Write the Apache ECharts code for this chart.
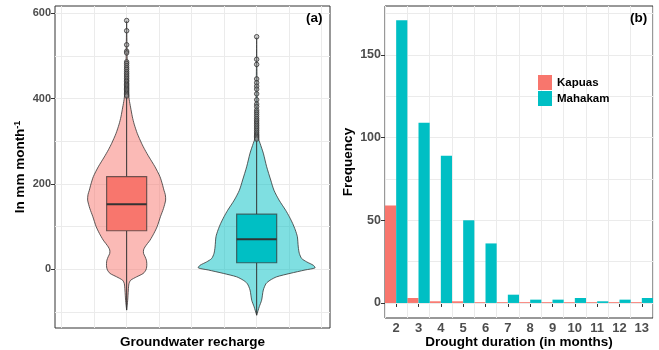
<!DOCTYPE html>
<html>
<head>
<meta charset="utf-8">
<script src="https://cdn.jsdelivr.net/npm/echarts@6.0.0/dist/echarts.min.js"></script>
<style>
  html, body { margin: 0; padding: 0; background: #fff; }
  #chart { width: 659px; height: 350px; }
</style>
</head>
<body>
<div id="chart"></div>
<script>
// (a) violin outlines: recharge level (mm/month) and half width (in category units)
const kapuasLevels = [-96, -73, -49, -34, -26, -18, -10, -2, 5, 13, 21, 29, 37, 45, 52, 60, 68, 84, 100, 123, 142, 162, 175, 185, 200, 217, 240, 263, 280, 295, 318, 340, 357, 380, 397, 420, 460, 520, 582]
const kapuasHalfWidth = [0, 0.008, 0.013, 0.018, 0.031, 0.077, 0.128, 0.148, 0.154, 0.155, 0.152, 0.142, 0.13, 0.13, 0.141, 0.16, 0.18, 0.21, 0.235, 0.26, 0.283, 0.3, 0.297, 0.287, 0.274, 0.256, 0.218, 0.172, 0.14, 0.115, 0.082, 0.058, 0.044, 0.03, 0.02, 0.012, 0.006, 0.003, 0]
const mahakamLevels = [-108, -88, -73, -49, -34, -26, -18, -10, -2, 3, 9, 17, 25, 37, 52, 76, 92, 107, 123, 138, 162, 185, 209, 240, 272, 295, 307, 340, 400, 470, 543]
const mahakamHalfWidth = [0, 0.02, 0.038, 0.051, 0.072, 0.103, 0.154, 0.256, 0.372, 0.449, 0.436, 0.385, 0.346, 0.328, 0.32, 0.313, 0.297, 0.277, 0.251, 0.223, 0.172, 0.133, 0.108, 0.077, 0.051, 0.026, 0.013, 0.007, 0.004, 0.002, 0]

// box stats: lower whisker, Q1, median, Q3, upper whisker
const kapuasBox = [-96, 90, 152, 217, 404]
const mahakamBox = [-108, 15, 70, 129, 302]

const kapuasOutliers = [583, 559, 526, 511, 507, 486, 482, 477, 472, 468, 463, 459, 455, 451, 447, 443, 440, 436, 433, 430, 427, 424, 421, 418, 415, 412, 409, 406]
const mahakamOutliers = [545, 492, 480, 446, 437, 429, 422, 411, 397, 387, 381, 373, 368, 363, 358, 353, 349, 345, 341, 337, 333, 329, 325, 321, 317, 314, 311, 308, 305]

// (b) drought duration frequency
const durations = ['2', '3', '4', '5', '6', '7', '8', '9', '10', '11', '12', '13']
const kapuasFreq = [59, 3, 1, 1, 0.5, 0.5, 0.5, 0.5, 0.5, 0.5, 0.5, 0.5]
const mahakamFreq = [171, 109, 89, 50, 36, 5, 2, 2, 3, 1, 2, 3]

// ticks and grid breaks
const rechargeLabels = [0, 200, 400, 600]
const rechargeGridY = [-100, 0, 100, 200, 300, 400, 500, 600]
const rechargeTicksX = [0.5, 1, 1.5, 2, 2.5]
const rechargeGridX = [0.5, 0.75, 1, 1.25, 1.5, 1.75, 2, 2.25, 2.5]
const freqLabels = [0, 50, 100, 150]
const freqGridY = [0, 25, 50, 75, 100, 125, 150, 175]

const RED = '#F8766D'
const CYAN = '#00BFC4'
const FONT = 'Liberation Sans'

const violins = [
  { x: 1, levels: kapuasLevels, hw: kapuasHalfWidth, fill: 'rgba(248,118,109,0.5)' },
  { x: 2, levels: mahakamLevels, hw: mahakamHalfWidth, fill: 'rgba(0,191,196,0.5)' }
]
const boxes = [
  { x: 1, stats: kapuasBox, fill: RED },
  { x: 2, stats: mahakamBox, fill: CYAN }
]

const chart = echarts.init(document.getElementById('chart'))

const gridLine = { color: '#EBEBEB', width: 1, type: 'solid' }
const tickLabel = { fontFamily: FONT, fontWeight: 'bold', color: '#4D4D4D' }
const axisTitle = { fontFamily: FONT, fontWeight: 'bold', fontSize: 13.5, color: '#000' }

const option = {
  animation: false,
  backgroundColor: '#fff',
  title: [
    { text: '(a)', left: 306, top: 11, padding: 0, textStyle: { fontFamily: FONT, fontSize: 13.5, fontWeight: 'bold', color: '#000' } },
    { text: '(b)', left: 630, top: 11, padding: 0, textStyle: { fontFamily: FONT, fontSize: 13.5, fontWeight: 'bold', color: '#000' } }
  ],
  legend: {
    data: ['Kapuas', 'Mahakam'],
    orient: 'vertical',
    left: 538,
    top: 75,
    padding: 0,
    itemWidth: 14,
    itemHeight: 15,
    itemGap: 1,
    icon: 'rect',
    textStyle: { fontFamily: FONT, fontWeight: 'bold', fontSize: 11.5, color: '#000' }
  },
  grid: [
    { left: 55, top: 6, width: 275, height: 322, outerBoundsMode: 'none', show: true, backgroundColor: '#fff', borderColor: '#333', borderWidth: 1 },
    { left: 385, top: 6, width: 268, height: 312, outerBoundsMode: 'none', show: true, backgroundColor: '#fff', borderColor: '#333', borderWidth: 1 }
  ],
  xAxis: [
    {
      type: 'value', gridIndex: 0, min: 0.449, max: 2.564,
      axisLine: { show: false },
      axisTick: { show: true, customValues: rechargeTicksX, length: 4, lineStyle: { color: '#333' } },
      axisLabel: { show: false },
      splitLine: { show: false },
      name: 'Groundwater recharge', nameLocation: 'middle', nameGap: 7, nameMoveOverlap: false,
      nameTextStyle: axisTitle
    },
    {
      type: 'category', gridIndex: 1, data: durations, boundaryGap: true,
      axisLine: { show: false },
      axisTick: { show: true, alignWithLabel: true, interval: 0, length: 4, lineStyle: { color: '#333' } },
      axisLabel: Object.assign({ interval: 0, fontSize: 13, margin: 4 }, tickLabel),
      splitLine: { show: true, interval: 0, lineStyle: gridLine },
      name: 'Drought duration (in months)', nameLocation: 'middle', nameGap: 17, nameMoveOverlap: false,
      nameTextStyle: axisTitle
    }
  ],
  yAxis: [
    {
      type: 'value', gridIndex: 0, min: -138, max: 617,
      axisLine: { show: false },
      axisTick: { show: true, customValues: rechargeLabels, length: 4, lineStyle: { color: '#333' } },
      axisLabel: Object.assign({ customValues: rechargeLabels, fontSize: 11, margin: 4 }, tickLabel),
      splitLine: { show: false },
      name: 'In mm month{sup|-1}', nameLocation: 'middle', nameGap: 28, nameMoveOverlap: false,
      nameTextStyle: Object.assign({
        rich: { sup: { fontFamily: FONT, fontWeight: 'bold', fontSize: 9, color: '#000', verticalAlign: 'top' } }
      }, axisTitle)
    },
    {
      type: 'value', gridIndex: 1, min: -9.1, max: 179.6,
      axisLine: { show: false },
      axisTick: { show: true, customValues: freqLabels, length: 4, lineStyle: { color: '#333' } },
      axisLabel: Object.assign({ customValues: freqLabels, fontSize: 12.5, margin: 4 }, tickLabel),
      splitLine: { show: false },
      name: 'Frequency', nameLocation: 'middle', nameGap: 30, nameMoveOverlap: false,
      nameTextStyle: axisTitle
    }
  ],
  series: [
    {
      type: 'line', xAxisIndex: 0, yAxisIndex: 0, data: [], z: 1, silent: true,
      markLine: {
        z: 1, silent: true, symbol: ['none', 'none'], label: { show: false },
        lineStyle: gridLine, animation: false,
        data: rechargeGridX.map(v => ({ xAxis: v })).concat(rechargeGridY.map(v => ({ yAxis: v })))
      }
    },
    {
      type: 'custom', name: 'violin', xAxisIndex: 0, yAxisIndex: 0, z: 10, clip: true,
      data: violins.map((v, i) => [v.x, i]),
      renderItem: function (params, api) {
        const v = violins[params.dataIndex]
        const c = api.value(0)
        const left = []
        const right = []
        for (let i = 0; i < v.levels.length; i++) {
          left.push(api.coord([c - v.hw[i], v.levels[i]]))
          right.push(api.coord([c + v.hw[i], v.levels[i]]))
        }
        return {
          type: 'polygon',
          shape: { points: left.concat(right.reverse()), smooth: 0.25 },
          style: { fill: v.fill, stroke: '#333', lineWidth: 0.8 }
        }
      }
    },
    {
      type: 'custom', name: 'box', xAxisIndex: 0, yAxisIndex: 0, z: 11, clip: true,
      data: boxes.map((b, i) => [b.x, i]),
      renderItem: function (params, api) {
        const b = boxes[params.dataIndex]
        const c = api.value(0)
        const s = b.stats
        const half = 0.154
        const lo = api.coord([c, s[0]])
        const q1 = api.coord([c, s[1]])
        const q3 = api.coord([c, s[3]])
        const hi = api.coord([c, s[4]])
        const tl = api.coord([c - half, s[3]])
        const br = api.coord([c + half, s[1]])
        const mL = api.coord([c - half, s[2]])
        const mR = api.coord([c + half, s[2]])
        return {
          type: 'group',
          children: [
            { type: 'line', shape: { x1: lo[0], y1: lo[1], x2: q1[0], y2: q1[1] }, style: { stroke: '#333', lineWidth: 1 } },
            { type: 'line', shape: { x1: q3[0], y1: q3[1], x2: hi[0], y2: hi[1] }, style: { stroke: '#333', lineWidth: 1 } },
            { type: 'rect', shape: { x: tl[0], y: tl[1], width: br[0] - tl[0], height: br[1] - tl[1] }, style: { fill: b.fill, stroke: 'rgba(51,51,51,0.7)', lineWidth: 1.2 } },
            { type: 'line', shape: { x1: mL[0], y1: mL[1], x2: mR[0], y2: mR[1] }, style: { stroke: '#333', lineWidth: 2 } }
          ]
        }
      }
    },
    {
      type: 'scatter', name: 'outliers', xAxisIndex: 0, yAxisIndex: 0, z: 12,
      symbol: 'circle', symbolSize: 4.5,
      itemStyle: { color: 'rgba(150,150,150,0.6)', borderColor: '#333', borderWidth: 1 },
      data: kapuasOutliers.map(v => [1, v]).concat(mahakamOutliers.map(v => [2, v]))
    },
    {
      type: 'line', xAxisIndex: 1, yAxisIndex: 1, data: [], z: 1, silent: true,
      markLine: {
        z: 1, silent: true, symbol: ['none', 'none'], label: { show: false },
        lineStyle: gridLine, animation: false,
        data: freqGridY.map(v => ({ yAxis: v }))
      }
    },
    {
      type: 'bar', name: 'Kapuas', xAxisIndex: 1, yAxisIndex: 1, z: 10,
      barGap: '0%', barCategoryGap: '0%',
      itemStyle: { color: RED },
      data: kapuasFreq
    },
    {
      type: 'bar', name: 'Mahakam', xAxisIndex: 1, yAxisIndex: 1, z: 10,
      barGap: '0%', barCategoryGap: '0%',
      itemStyle: { color: CYAN },
      data: mahakamFreq
    }
  ]
}

chart.setOption(option)
</script>
</body>
</html>
